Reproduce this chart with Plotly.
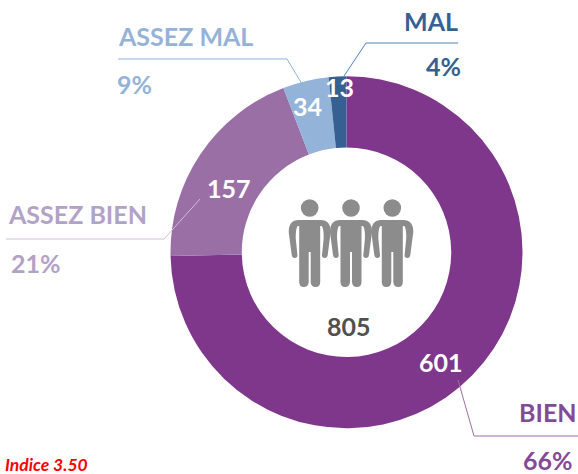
import plotly.graph_objects as go

W, H = 578, 474
categories = ["BIEN", "ASSEZ BIEN", "ASSEZ MAL", "MAL"]
values = [601, 157, 34, 13]
percents = ["66%", "21%", "9%", "4%"]
slice_colors = ["#7F378C", "#9A6FA5", "#94B3D9", "#366092"]
label_colors = ["#854A96", "#B3A2C7", "#95B3D7", "#366092"]
total = 805
index_text = "Indice 3.50"
FONT = "Lato, Carlito, sans-serif"


def px(x):
    return x / W


def py(y):
    return 1 - y / H


fig = go.Figure(go.Pie(
    labels=categories, values=values, sort=False, direction="clockwise", rotation=0,
    hole=0.595, textinfo="none", hoverinfo="label+value",
    marker=dict(colors=slice_colors, line=dict(width=0)),
    domain=dict(x=[px(170.5), px(522.5)], y=[py(428.5), py(76)]),
    showlegend=False,
))


def text(s, x, y, color, size, anchor="center", italic=False):
    body = f"<b>{s}</b>"
    if italic:
        body = f"<i>{body}</i>"
    fig.add_annotation(text=body, x=px(x), y=py(y), xref="paper", yref="paper",
                       xanchor=anchor, yanchor="middle", showarrow=False,
                       font=dict(family=FONT, size=size, color=color),
                       borderpad=0, borderwidth=0)


def line(points, color):
    path = "M" + " L".join(f"{px(a)},{py(b)}" for a, b in points)
    fig.add_shape(type="path", path=path, xref="paper", yref="paper",
                  line=dict(color=color, width=1))


# leader lines
line([(458, 380), (474, 436), (578, 436)], "#9A6FA5")
line([(6, 239), (164, 239), (200, 199)], "#CDBFD9")
line([(118, 59), (287, 59), (305, 89)], "#8DB4E2")
line([(458, 43), (366, 43), (344, 76)], "#4F81BD")

# category labels
text(categories[0], 577, 412, label_colors[0], 25, "right")
text(percents[0], 573, 460, label_colors[0], 25, "right")
text(categories[1], 8, 214, label_colors[1], 25, "left")
text(percents[1], 11, 263, label_colors[1], 25, "left")
text(categories[2], 118, 36, label_colors[2], 25, "left")
text(percents[2], 117, 84, label_colors[2], 25, "left")
text(categories[3], 458, 21, label_colors[3], 25, "right")
text(percents[3], 461, 66, label_colors[3], 25, "right")

# value labels
text(values[0], 441, 362, "white", 25)
text(values[1], 229, 188, "white", 25)
text(values[2], 308, 106, "white", 25)
text(values[3], 339, 87, "white", 25)
text(total, 349, 326, "#505050", 25)
text(index_text, 5, 464, "#FF0000", 17.5, "left", italic=True)


# people icon
RIGHT_HALF = [
    ("M", [(0, 220)]), ("L", [(11, 220)]), ("Q", [(21, 220), (21, 232)]), ("L", [(18, 255)]),
    ("Q", [(17.5, 258), (15, 258)]), ("Q", [(12, 258), (12.3, 255)]), ("L", [(14, 238)]),
    ("Q", [(14, 228), (12, 226)]), ("L", [(10.5, 226)]),
    ("L", [(10.5, 282)]), ("Q", [(10.5, 287), (6, 287)]), ("Q", [(1.2, 287), (1, 282)]),
    ("L", [(1, 252)]), ("L", [(0, 252)]),
]
LEFT_HALF = [
    ("L", [(-1, 252)]), ("L", [(-1, 282)]), ("Q", [(-1.2, 287), (-6, 287)]),
    ("Q", [(-10.5, 287), (-10.5, 282)]), ("L", [(-10.5, 226)]), ("L", [(-12, 226)]),
    ("Q", [(-14, 228), (-14, 238)]), ("L", [(-12.3, 255)]), ("Q", [(-12, 258), (-15, 258)]),
    ("Q", [(-17.5, 258), (-18, 255)]), ("L", [(-21, 232)]), ("Q", [(-21, 220), (-11, 220)]),
]


def person(cx):
    d = ""
    for cmd, ps in RIGHT_HALF + LEFT_HALF:
        d += cmd + " ".join(f"{px(cx + a)},{py(b)}" for a, b in ps) + " "
    fig.add_shape(type="path", path=d + "Z", xref="paper", yref="paper",
                  fillcolor="#8C8C8C", line=dict(width=0))
    fig.add_shape(type="circle", xref="paper", yref="paper",
                  x0=px(cx - 8.8), x1=px(cx + 8.8), y0=py(216.8), y1=py(199.2),
                  fillcolor="#8C8C8C", line=dict(width=0))


for cx in (309.7, 351, 392.3):
    person(cx)

fig.update_layout(width=W, height=H, autosize=False, margin=dict(l=0, r=0, t=0, b=0),
                  paper_bgcolor="white", plot_bgcolor="white")
fig.write_html("out.html", config=dict(displayModeBar=False),
               post_script="document.body.style.margin='0';document.documentElement.style.overflow='hidden';")
